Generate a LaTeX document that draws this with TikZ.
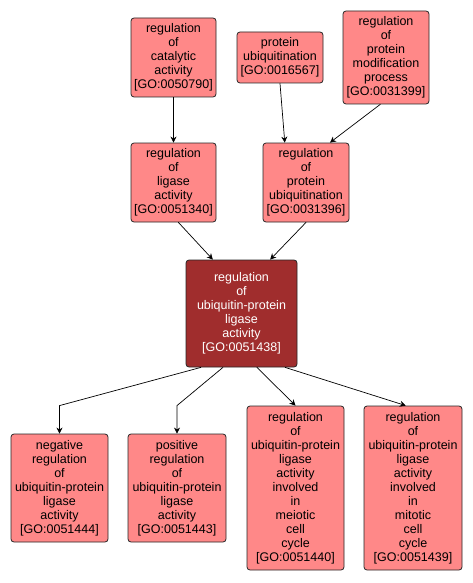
\documentclass[tikz,border=0pt]{standalone}
\usepackage{fontspec}
\setmainfont{Liberation Sans}
\usetikzlibrary{arrows.meta}
\definecolor{goPink}{RGB}{255,136,136}
\definecolor{goDark}{RGB}{160,45,45}
\begin{document}
\begin{tikzpicture}[x=1pt,y=-1pt,line cap=round,line join=round,
  term/.style={draw=black!85,line width=0.8pt,rounded corners=3pt,fill=goPink,
    align=center,inner sep=0pt,font=\fontsize{12.5}{14}\selectfont},
  focus/.style={term,fill=goDark,text=white},
  arr/.style={line width=0.7pt,-{Stealth[length=6pt,width=6pt]}}]
  \useasboundingbox (0,0) rectangle (473,583);
  \node[term,minimum width=85pt,minimum height=79pt] (cat) at (173.5,57.5) {regulation\\of\\catalytic\\activity\\{[GO:0050790]}};
  \node[term,minimum width=86pt,minimum height=51pt] (pu) at (280,57.5) {protein\\ubiquitination\\{[GO:0016567]}};
  \node[term,minimum width=86pt,minimum height=93pt] (pmp) at (386,57.5) {regulation\\of\\protein\\modification\\process\\{[GO:0031399]}};
  \node[term,minimum width=85pt,minimum height=79pt] (lig) at (173.5,182.5) {regulation\\of\\ligase\\activity\\{[GO:0051340]}};
  \node[term,minimum width=86pt,minimum height=79pt] (rpu) at (306,182.5) {regulation\\of\\protein\\ubiquitination\\{[GO:0031396]}};
  \node[focus,minimum width=111pt,minimum height=107pt] (upl) at (241.5,313.5) {regulation\\of\\ubiquitin-protein\\ligase\\activity\\{[GO:0051438]}};
  \node[term,minimum width=97pt,minimum height=108pt] (neg) at (59.5,488) {negative\\regulation\\of\\ubiquitin-protein\\ligase\\activity\\{[GO:0051444]}};
  \node[term,minimum width=98pt,minimum height=108pt] (pos) at (177,488) {positive\\regulation\\of\\ubiquitin-protein\\ligase\\activity\\{[GO:0051443]}};
  \node[term,minimum width=97pt,minimum height=164pt] (mei) at (295.5,488) {regulation\\of\\ubiquitin-protein\\ligase\\activity\\involved\\in\\meiotic\\cell\\cycle\\{[GO:0051440]}};
  \node[term,minimum width=98pt,minimum height=164pt] (mit) at (413,488) {regulation\\of\\ubiquitin-protein\\ligase\\activity\\involved\\in\\mitotic\\cell\\cycle\\{[GO:0051439]}};
  \draw[arr] (cat.south) -- (lig.north);
  \draw[arr] (pu.south) -- (rpu.118);
  \draw[arr] (pmp.263) -- (rpu.59);
  \draw[arr] (lig.277) -- (upl.118);
  \draw[arr] (rpu.south) -- (upl.62);
  \draw[arr] (upl.233) -- ([yshift=28pt]neg.north) -- (neg.north);
  \draw[arr] (upl.251) -- ([yshift=28pt]pos.north) -- (pos.north);
  \draw[arr] (upl.286) -- (mei.north);
  \draw[arr] (upl.309) -- (mit.95);
\end{tikzpicture}
\end{document}
